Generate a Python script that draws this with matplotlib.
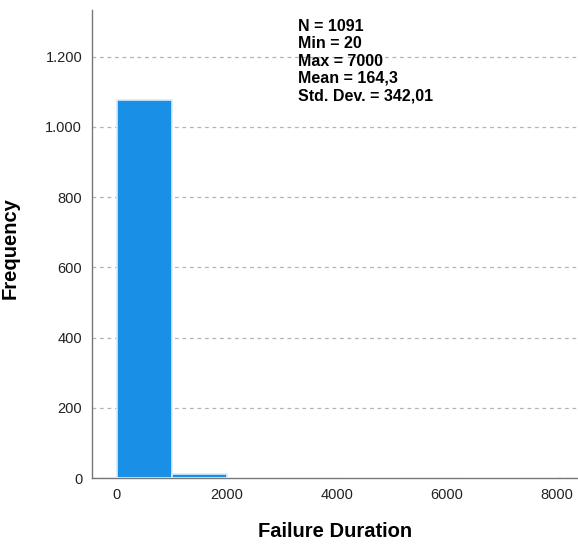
import matplotlib
matplotlib.use("Agg")
import matplotlib.pyplot as plt
from matplotlib.ticker import FuncFormatter

# histogram of failure durations, bin width 1000
bin_edges = [0, 1000, 2000, 3000, 4000, 5000, 6000, 7000, 8000]
counts = [1077, 11, 1, 0, 0, 0, 1, 1]
stats_lines = ["N = 1091", "Min = 20", "Max = 7000", "Mean = 164,3", "Std. Dev. = 342,01"]
x_ticks = [0, 2000, 4000, 6000, 8000]
y_ticks = [0, 200, 400, 600, 800, 1000, 1200]

plt.rcParams["font.family"] = ["Liberation Sans", "DejaVu Sans"]

fig = plt.figure(figsize=(5.78, 5.47), dpi=100)
ax = fig.add_axes([0.159, 0.126, 0.841, 0.856])

lefts = bin_edges[:-1]
widths = [b - a for a, b in zip(bin_edges[:-1], bin_edges[1:])]
ax.bar(lefts, counts, width=widths, align="edge", color="#1a8fe6",
       edgecolor="#d8ecfb", linewidth=1.2, zorder=3)

ax.set_xlim(-455, 8380)
ax.set_ylim(0, 1333)
ax.set_xticks(x_ticks)
ax.set_yticks(y_ticks)
ax.yaxis.set_major_formatter(FuncFormatter(lambda v, p: f"{int(v):,}".replace(",", ".")))
ax.tick_params(axis="y", length=0, labelsize=10.5, colors="#222222", pad=7)
ax.tick_params(axis="x", length=0, labelsize=10.5, colors="#222222", pad=7)

ax.grid(axis="y", linestyle=(0, (3, 3)), color="#b4b4b4", linewidth=0.9, zorder=0)
for s in ["top", "right"]:
    ax.spines[s].set_visible(False)
for s in ["left", "bottom"]:
    ax.spines[s].set_color("#777777")
    ax.spines[s].set_linewidth(1.0)

ax.set_xlabel("Failure Duration", fontsize=14.5, fontweight="bold")
ax.xaxis.set_label_coords(0.5, -0.094)
ax.set_ylabel("Frequency", fontsize=14.5, fontweight="bold")
ax.yaxis.set_label_coords(-0.148, 0.491)

ax.text(0.424, 0.981, "\n".join(stats_lines), transform=ax.transAxes,
        fontsize=11.5, fontweight="bold", va="top", ha="left", linespacing=1.2)

fig.savefig("out.png", dpi=100)
plt.close(fig)
